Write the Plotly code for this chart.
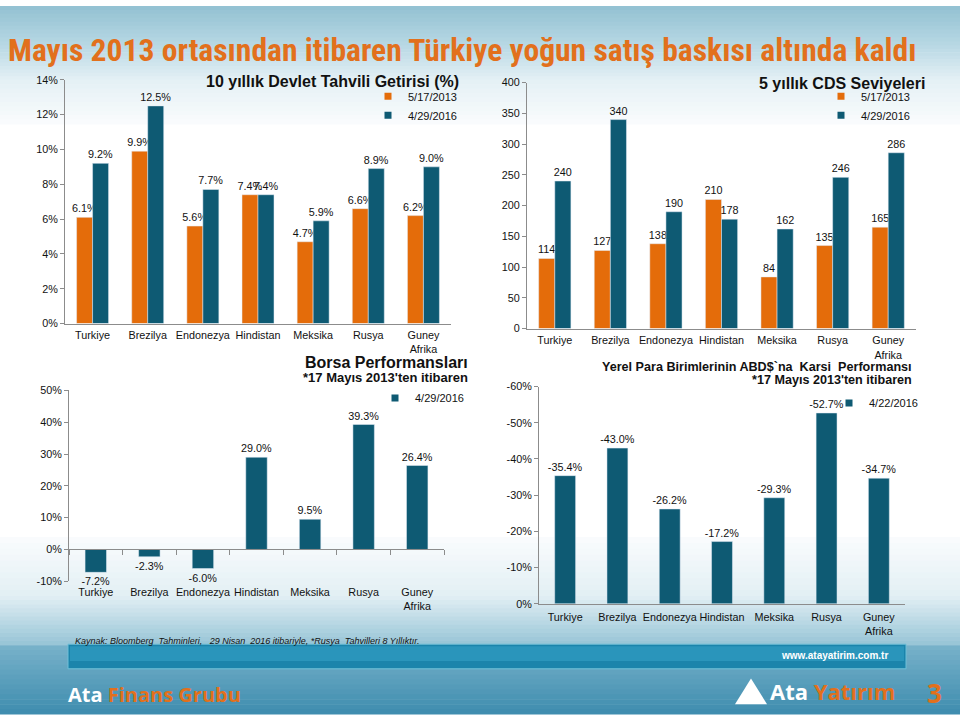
import plotly.graph_objects as go

W, H = 960, 720

# ---------------- data ----------------
countries = ["Turkiye", "Brezilya", "Endonezya", "Hindistan", "Meksika", "Rusya", "Guney<br>Afrika"]

bond_2013 = [6.1, 9.9, 5.6, 7.4, 4.7, 6.6, 6.2]
bond_2016 = [9.2, 12.5, 7.7, 7.4, 5.9, 8.9, 9.0]

cds_2013 = [114, 127, 138, 210, 84, 135, 165]
cds_2016 = [240, 340, 190, 178, 162, 246, 286]

borsa_2016 = [-7.2, -2.3, -6.0, 29.0, 9.5, 39.3, 26.4]

fx_2016 = [-35.4, -43.0, -26.2, -17.2, -29.3, -52.7, -34.7]

bond_ticks = [0, 2, 4, 6, 8, 10, 12, 14]
cds_ticks = [0, 50, 100, 150, 200, 250, 300, 350, 400]
borsa_ticks = [-10, 0, 10, 20, 30, 40, 50]
fx_ticks = [0, -10, -20, -30, -40, -50, -60]

ORANGE = "#E46C0A"
TEAL = "#0E5A73"
FONT = "Liberation Sans, Arial, sans-serif"
TICK_SIZE = 10.8


def px_dom_x(a, b):
    return [a / W, b / W]


def px_dom_y(top, bottom):
    return [1 - bottom / H, 1 - top / H]


def pct(v, d=1):
    return f"{v:.{d}f}%"


fig = go.Figure()

bar_common = dict(textposition="outside", cliponaxis=False, showlegend=False,
                  constraintext="none", textfont=dict(size=TICK_SIZE, color="#111", family=FONT),
                  hoverinfo="x+y")

# ---------- chart 1: bond yields ----------
fig.add_trace(go.Bar(x=countries, y=bond_2013, marker_color=ORANGE, xaxis="x", yaxis="y",
                     text=[pct(v) for v in bond_2013], **bar_common))
fig.add_trace(go.Bar(x=countries, y=bond_2016, marker_color=TEAL, xaxis="x", yaxis="y",
                     text=[pct(v) for v in bond_2016], **bar_common))
# ---------- chart 2: CDS ----------
fig.add_trace(go.Bar(x=countries, y=cds_2013, marker_color=ORANGE, xaxis="x2", yaxis="y2",
                     text=[str(v) for v in cds_2013], **bar_common))
fig.add_trace(go.Bar(x=countries, y=cds_2016, marker_color=TEAL, xaxis="x2", yaxis="y2",
                     text=[str(v) for v in cds_2016], **bar_common))
# ---------- chart 3: equity ----------
fig.add_trace(go.Bar(x=countries, y=borsa_2016, marker_color=TEAL, xaxis="x3", yaxis="y3",
                     text=[pct(v) for v in borsa_2016], width=0.4, **bar_common))
fig.add_trace(go.Scatter(x=countries, y=[None] * len(countries), xaxis="x5", yaxis="y3",
                         showlegend=False, hoverinfo="skip", mode="markers"))
# ---------- chart 4: FX ----------
fig.add_trace(go.Bar(x=countries, y=fx_2016, marker_color=TEAL, xaxis="x4", yaxis="y4",
                     text=[pct(v) for v in fx_2016], width=0.4, **bar_common))

# legend proxies
for name, col, lg in [("5/17/2013", ORANGE, "legend"), ("4/29/2016", TEAL, "legend"),
                      ("5/17/2013", ORANGE, "legend2"), ("4/29/2016", TEAL, "legend2"),
                      ("4/29/2016", TEAL, "legend3"), ("4/22/2016", TEAL, "legend4")]:
    xa = {"legend": "x", "legend2": "x2", "legend3": "x3", "legend4": "x4"}[lg]
    ya = xa.replace("x", "y")
    fig.add_trace(go.Scatter(x=[None], y=[None], mode="markers", name=name, xaxis=xa, yaxis=ya,
                             marker=dict(symbol="square", size=7, color=col),
                             legend=lg, showlegend=True))

axis_common = dict(showgrid=False, zeroline=False, showline=True, linecolor="#8c8c8c",
                   linewidth=1, tickfont=dict(size=TICK_SIZE, color="#111", family=FONT))
yax_common = dict(axis_common, ticks="outside", ticklen=4, tickcolor="#8c8c8c")
xax_common = dict(axis_common, ticks="", type="category", range=[-0.5, 6.5], tickangle=0,
                  ticklabelstandoff=3)

# domains in pixels
d1x, d1y = px_dom_x(65, 451), px_dom_y(75, 323)
d2x, d2y = px_dom_x(527, 916), px_dom_y(78, 328)
d3x, d3y = px_dom_x(69, 444), px_dom_y(391, 585)
d4x, d4y = px_dom_x(539, 905), px_dom_y(387, 608)

zero_pos3 = d3y[0] + (d3y[1] - d3y[0]) * (0 - borsa_ticks[0]) / (borsa_ticks[-1] - borsa_ticks[0])

fig.update_layout(
    xaxis=dict(xax_common, domain=d1x, anchor="y", ticklabelstandoff=1),
    yaxis=dict(yax_common, domain=d1y, anchor="x", range=[0, 14], tickvals=bond_ticks,
               ticktext=[f"{t}%" for t in bond_ticks]),
    xaxis2=dict(xax_common, domain=d2x, anchor="y2", ticklabelstandoff=2),
    yaxis2=dict(yax_common, domain=d2y, anchor="x2", range=[0, 400], tickvals=cds_ticks,
                ticktext=[str(t) for t in cds_ticks]),
    xaxis3=dict(xax_common, domain=d3x, anchor="y3", showline=False),
    yaxis3=dict(yax_common, domain=d3y, anchor="x3", range=[-10, 50], tickvals=borsa_ticks,
                ticktext=[f"{t}%" for t in borsa_ticks]),
    xaxis5=dict(showgrid=False, zeroline=False, showline=True, linecolor="#8c8c8c", linewidth=1,
                type="category", range=[-0.5, 6.5], overlaying="x3", anchor="free",
                position=zero_pos3, ticks="outside", ticklen=5, tickcolor="#8c8c8c",
                tickson="boundaries", showticklabels=False, domain=d3x),
    xaxis4=dict(xax_common, domain=d4x, anchor="y4"),
    yaxis4=dict(yax_common, domain=d4y, anchor="x4", range=[0, -60], tickvals=fx_ticks,
                ticktext=[f"{t}%" for t in fx_ticks]),
    barmode="group",
    bargap=0.42,
    bargroupgap=0,
    width=W, height=H,
    margin=dict(l=0, r=0, t=0, b=0),
    paper_bgcolor="#ffffff",
    plot_bgcolor="rgba(0,0,0,0)",
    font=dict(family=FONT, size=12, color="#111"),
)

leg_common = dict(bgcolor="rgba(0,0,0,0)", font=dict(size=11, color="#111", family=FONT),
                  xanchor="left", yanchor="top", tracegroupgap=0, itemwidth=30)
fig.update_layout(
    legend=dict(leg_common, x=368 / W, y=1 - 77 / H),
    legend2=dict(leg_common, x=821 / W, y=1 - 77 / H),
    legend3=dict(leg_common, x=375 / W, y=1 - 384 / H),
    legend4=dict(leg_common, x=829 / W, y=1 - 389 / H),
)

# ---------------- background decoration ----------------
shapes = []


def lerp(c1, c2, t):
    return tuple(int(round(a + (b - a) * t)) for a, b in zip(c1, c2))


def band(y0, y1, c0, c1, n):
    for i in range(n):
        t0 = y0 + (y1 - y0) * i / n
        t1 = y0 + (y1 - y0) * (i + 1) / n + 0.6
        c = lerp(c0, c1, (i + 0.5) / n)
        shapes.append(dict(type="rect", xref="paper", yref="paper", x0=0, x1=1,
                           y0=1 - t1 / H, y1=1 - t0 / H, line=dict(width=0),
                           fillcolor=f"rgb{c}", layer="below"))


band(0, 40, (146, 193, 210), (184, 216, 228), 10)
band(40, 75, (184, 216, 228), (228, 240, 245), 10)
band(75, 120, (228, 240, 245), (250, 252, 253), 10)
band(540, 600, (250, 252, 253), (226, 239, 244), 10)
band(600, 650, (226, 239, 244), (150, 196, 214), 12)
band(650, 720, (120, 178, 202), (62, 140, 174), 14)

# footer bar
shapes.append(dict(type="rect", xref="paper", yref="paper", x0=68 / W, x1=906 / W,
                   y0=1 - 674 / H, y1=1 - 649 / H, fillcolor="#1b84ab",
                   line=dict(color="#6fbfd8", width=1), layer="below"))
shapes.append(dict(type="rect", xref="paper", yref="paper", x0=70 / W, x1=904 / W,
                   y0=1 - 666 / H, y1=1 - 651 / H, fillcolor="#2a95bb",
                   line=dict(width=0), layer="below"))
# simple logo mark
shapes.append(dict(type="path", xref="paper", yref="paper",
                   path=f"M {735/W} {1-710/H} L {751/W} {1-684/H} L {767/W} {1-710/H} Z",
                   fillcolor="#ffffff", line=dict(width=0), layer="below"))

fig.update_layout(shapes=shapes)

# ---------------- text ----------------
ann = []


def add_text(text, x, y, size, color="#111", bold=False, xanchor="left", yanchor="middle",
             family=FONT, italic=False):
    t = text
    if bold:
        t = f"<b>{t}</b>"
    if italic:
        t = f"<i>{t}</i>"
    ann.append(dict(text=t, x=x / W, y=1 - y / H, xref="paper", yref="paper", showarrow=False,
                    xanchor=xanchor, yanchor=yanchor,
                    font=dict(size=size, color=color, family=family)))


add_text("Mayıs 2013 ortasından itibaren Türkiye yoğun satış baskısı altında kaldı", 6, 45, 31.6,
         color="#E2701C", bold=True,
         family="Liberation Sans Narrow, Arial Narrow, Roboto Condensed, Liberation Sans, sans-serif")
add_text("10 yıllık Devlet Tahvili Getirisi (%)", 461, 77, 16, bold=True, xanchor="right")
add_text("5 yıllık CDS Seviyeleri", 927, 79, 16, bold=True, xanchor="right")
add_text("Borsa Performansları", 470, 363, 16, bold=True, xanchor="right")
add_text("*17 Mayıs 2013'ten itibaren", 470, 378, 13, bold=True, xanchor="right")
add_text("Yerel Para Birimlerinin ABD$`na  Karsi  Performansı", 914, 367, 12.6, bold=True, xanchor="right")
add_text("*17 Mayıs 2013'ten itibaren", 914, 380, 12.6, bold=True, xanchor="right")
add_text("Kaynak: Bloomberg  Tahminleri,   29 Nisan  2016 itibariyle, *Rusya  Tahvilleri 8 Yıllıktır.",
         73, 646, 9, italic=True)
add_text("www.atayatirim.com.tr", 890, 660, 10, color="#ffffff", bold=True, xanchor="right")
add_text("Ata <span style='color:#E2701C'>Finans Grubu</span>", 66, 700, 20, color="#ffffff",
         bold=True, family="Open Sans, sans-serif")
add_text("Ata <span style='color:#E2701C'>Yatırım</span>", 768, 697, 22, color="#ffffff",
         bold=True, family="Open Sans, sans-serif")
add_text("3", 934, 699, 26, color="#E2701C", bold=True, xanchor="center", family="Open Sans, sans-serif")

fig.update_layout(annotations=ann)

fig.write_html("out.html")
